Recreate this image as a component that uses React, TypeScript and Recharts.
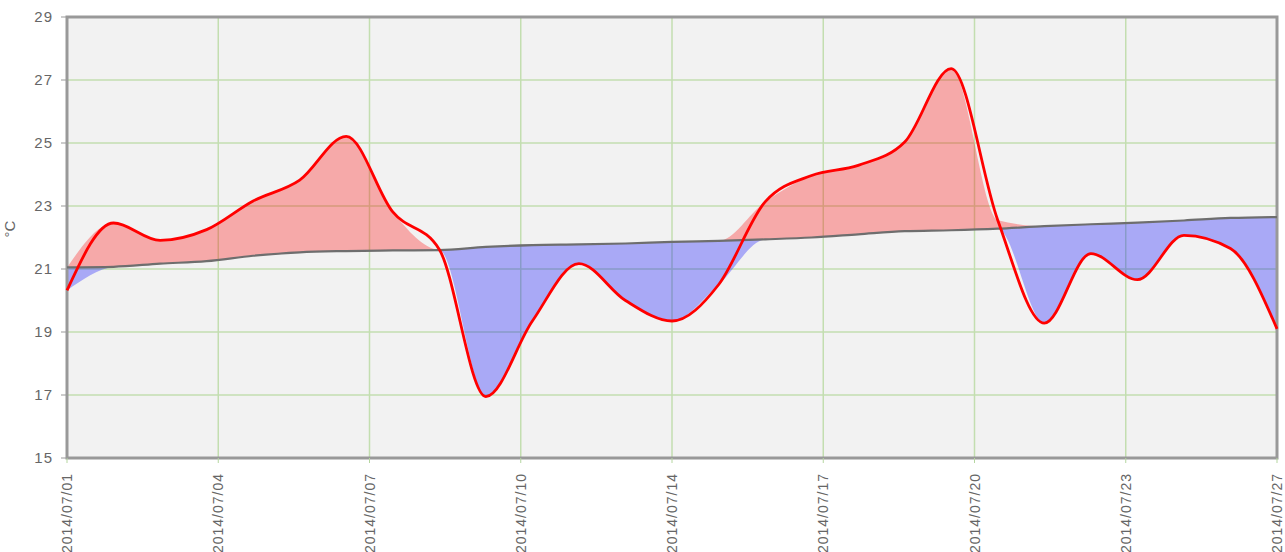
import {
  ComposedChart,
  Area,
  Line,
  XAxis,
  YAxis,
  CartesianGrid,
  ReferenceArea,
} from 'recharts';

// daily readings, 2014/07/01 .. 2014/07/27
const days = [
  '07/01', '07/02', '07/03', '07/04', '07/05', '07/06', '07/07', '07/08', '07/09',
  '07/10', '07/11', '07/12', '07/13', '07/14', '07/15', '07/16', '07/17', '07/18',
  '07/19', '07/20', '07/21', '07/22', '07/23', '07/24', '07/25', '07/26', '07/27',
];

const actualTemps = [
  20.32, 22.46, 21.91, 22.25, 23.16, 23.82, 25.21, 22.81, 21.62, 16.95, 19.35, 21.17, 20.0,
  19.35, 20.5, 23.13, 23.97, 24.29, 25.03, 27.36, 22.55, 19.28, 21.49, 20.66, 22.07, 21.65,
  19.1,
];

const normalTemps = [
  21.05, 21.07, 21.17, 21.25, 21.42, 21.53, 21.57, 21.59, 21.6, 21.7, 21.76, 21.78, 21.81,
  21.86, 21.89, 21.94, 22.0, 22.1, 22.2, 22.23, 22.28, 22.36, 22.42, 22.47, 22.54, 22.62,
  22.65,
];

const xTickLabels = [
  '2014/07/01', '2014/07/04', '2014/07/07', '2014/07/10', '2014/07/14',
  '2014/07/17', '2014/07/20', '2014/07/23', '2014/07/27',
];

const yTicks = [15, 17, 19, 21, 23, 25, 27, 29];

const lastDay = days.length - 1;
// labels sit evenly along the time axis
const xTicks = xTickLabels.map((_, i) => (i * lastDay) / (xTickLabels.length - 1));

const chartData = actualTemps.map((t, i) => ({
  day: i,
  date: days[i],
  actual: t,
  normal: normalTemps[i],
  above: [normalTemps[i], Math.max(t, normalTemps[i])],
  below: [Math.min(t, normalTemps[i]), normalTemps[i]],
}));

const FONT = '"Liberation Sans", Arial, sans-serif';

const XTick = ({ x, y, index }: { x: number; y: number; index: number }) => (
  <g transform={`translate(${x},${y})`}>
    <text
      x={0}
      y={0}
      dy={5}
      textAnchor="end"
      transform="rotate(-90)"
      fill="#666"
      fontSize={14}
      letterSpacing={1}
      fontFamily={FONT}
    >
      {xTickLabels[index]}
    </text>
  </g>
);

export default function App() {
  return (
    <div style={{ position: 'absolute', left: 0, top: 0, background: '#fff' }}>
      <ComposedChart
        width={1285}
        height={552}
        data={chartData}
        margin={{ top: 17, right: 8, left: 0, bottom: 0 }}
      >
        <CartesianGrid stroke="#c3deb0" strokeWidth={1.5} fill="#f2f2f2" />
        <XAxis
          dataKey="day"
          type="number"
          domain={[0, lastDay]}
          ticks={xTicks}
          interval={0}
          height={94}
          axisLine={false}
          tickLine={{ stroke: '#b5d6a0' }}
          tickSize={5}
          tickMargin={10}
          tick={XTick}
        />
        <YAxis
          domain={[15, 29]}
          ticks={yTicks}
          width={67}
          axisLine={false}
          tickLine={{ stroke: '#999' }}
          tickSize={6}
          tickMargin={8}
          tick={{ fill: '#666', fontSize: 15, fontFamily: FONT, letterSpacing: 1 }}
          label={{
            value: '°C',
            angle: -90,
            position: 'insideLeft',
            offset: 10,
            fill: '#666',
            fontSize: 15,
            fontFamily: FONT,
          }}
        />
        <Area
          dataKey="above"
          type="monotone"
          stroke="none"
          fill="#ff0000"
          fillOpacity={0.3}
          isAnimationActive={false}
        />
        <Area
          dataKey="below"
          type="monotone"
          stroke="none"
          fill="#0000ff"
          fillOpacity={0.3}
          isAnimationActive={false}
        />
        <Line
          dataKey="normal"
          type="monotone"
          stroke="#6e6e6e"
          strokeWidth={2.2}
          dot={false}
          isAnimationActive={false}
        />
        <Line
          dataKey="actual"
          type="monotone"
          stroke="#ff0000"
          strokeWidth={2.8}
          dot={false}
          isAnimationActive={false}
        />
        <ReferenceArea
          x1={0}
          x2={lastDay}
          y1={15}
          y2={29}
          fill="none"
          stroke="#999"
          strokeWidth={3}
          ifOverflow="visible"
        />
      </ComposedChart>
    </div>
  );
}
